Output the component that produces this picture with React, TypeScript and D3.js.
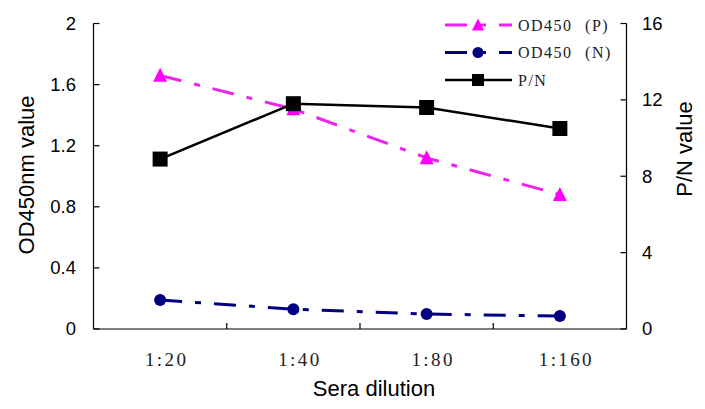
import React, { useEffect, useRef } from 'react';
import * as d3 from 'd3';

// data
const dilutions = ['1:20', '1:40', '1:80', '1:160'];
const odP = [1.66, 1.44, 1.12, 0.88];
const odN = [0.19, 0.13, 0.098, 0.085];
const pnRatio = [8.9, 11.8, 11.6, 10.5];
const leftTicks = [0, 0.4, 0.8, 1.2, 1.6, 2];
const rightTicks = [0, 4, 8, 12, 16];

const SANS = 'Arial, "Liberation Sans", sans-serif';
const SERIF = '"Liberation Serif", "Times New Roman", serif';

const App = () => {
  const ref = useRef<SVGSVGElement>(null);

  useEffect(() => {
    const width = 705;
    const height = 409;
    const left = 93.5;
    const right = 626.5;
    const top = 23.5;
    const bottom = 329;

    const svg = d3.select(ref.current);
    svg.selectAll('*').remove();
    svg.attr('width', width).attr('height', height);

    svg.append('rect').attr('width', width).attr('height', height).attr('fill', 'white');

    const x = d3.scaleBand().domain(dilutions).range([left, right]);
    const yL = d3.scaleLinear().domain([0, 2]).range([bottom, top]);
    const yR = d3.scaleLinear().domain([0, 16]).range([bottom, top]);
    const cx = (d: string) => (x(d) as number) + x.bandwidth() / 2;

    // axes
    const axisG = svg.append('g').attr('stroke', 'black').attr('stroke-width', 1.2);
    axisG.append('line').attr('x1', left).attr('x2', left).attr('y1', top).attr('y2', bottom);
    axisG.append('line').attr('x1', right).attr('x2', right).attr('y1', top).attr('y2', bottom);
    axisG.append('line').attr('x1', left).attr('x2', right).attr('y1', bottom).attr('y2', bottom);

    // ticks point inward
    leftTicks.forEach((t) => {
      axisG.append('line').attr('x1', left).attr('x2', left + 6).attr('y1', yL(t)).attr('y2', yL(t));
    });
    rightTicks.forEach((t) => {
      axisG.append('line').attr('x1', right - 6).attr('x2', right).attr('y1', yR(t)).attr('y2', yR(t));
    });
    // x ticks at category boundaries
    dilutions.slice(1).forEach((d) => {
      const xb = x(d) as number;
      axisG.append('line').attr('x1', xb).attr('x2', xb).attr('y1', bottom - 6).attr('y2', bottom);
    });

    // tick labels
    svg.selectAll('.lt')
      .data(leftTicks)
      .enter()
      .append('text')
      .attr('x', 76)
      .attr('y', (d) => yL(d))
      .attr('dy', '0.35em')
      .attr('text-anchor', 'end')
      .attr('font-family', SANS)
      .attr('font-size', 18.5)
      .text((d) => String(d));

    svg.selectAll('.rt')
      .data(rightTicks)
      .enter()
      .append('text')
      .attr('x', 642)
      .attr('y', (d) => yR(d))
      .attr('dy', '0.35em')
      .attr('text-anchor', 'start')
      .attr('font-family', SANS)
      .attr('font-size', 18.5)
      .text((d) => String(d));

    svg.selectAll('.xt')
      .data(dilutions)
      .enter()
      .append('text')
      .attr('x', (d) => cx(d) + 6.5)
      .attr('y', 366)
      .attr('text-anchor', 'middle')
      .attr('font-family', SERIF)
      .attr('font-size', 19)
      .attr('letter-spacing', 2.4)
      .attr('fill', '#222')
      .text((d) => d);

    // axis titles
    svg.append('text')
      .attr('transform', 'translate(34,175) rotate(-90)')
      .attr('text-anchor', 'middle')
      .attr('font-family', SANS)
      .attr('font-size', 22)
      .text('OD450nm value');

    svg.append('text')
      .attr('transform', 'translate(692,149) rotate(-90)')
      .attr('text-anchor', 'middle')
      .attr('font-family', SANS)
      .attr('font-size', 22)
      .text('P/N value');

    svg.append('text')
      .attr('x', 374)
      .attr('y', 396)
      .attr('text-anchor', 'middle')
      .attr('font-family', SANS)
      .attr('font-size', 22)
      .text('Sera dilution');

    const dash = '22,13,6,13';
    const triangle = (s: number) => `M0,${-s * 0.55}L${s / 2},${s * 0.45}L${-s / 2},${s * 0.45}Z`;

    // OD450 (P)
    const lineOD = d3.line<number>().x((_, i) => cx(dilutions[i])).y((d) => yL(d));
    svg.append('path')
      .attr('d', lineOD(odP))
      .attr('fill', 'none')
      .attr('stroke', '#EE22EE')
      .attr('stroke-width', 3)
      .attr('stroke-dasharray', dash);
    svg.selectAll('.mp')
      .data(odP)
      .enter()
      .append('path')
      .attr('transform', (d, i) => `translate(${cx(dilutions[i])},${yL(d)})`)
      .attr('d', triangle(14))
      .attr('fill', '#FF00FF');

    // OD450 (N)
    svg.append('path')
      .attr('d', lineOD(odN))
      .attr('fill', 'none')
      .attr('stroke', '#000080')
      .attr('stroke-width', 3)
      .attr('stroke-dasharray', dash);
    svg.selectAll('.mn')
      .data(odN)
      .enter()
      .append('circle')
      .attr('cx', (d, i) => cx(dilutions[i]))
      .attr('cy', (d) => yL(d))
      .attr('r', 6)
      .attr('fill', '#000080');

    // P/N
    const linePN = d3.line<number>().x((_, i) => cx(dilutions[i])).y((d) => yR(d));
    svg.append('path')
      .attr('d', linePN(pnRatio))
      .attr('fill', 'none')
      .attr('stroke', 'black')
      .attr('stroke-width', 2.5);
    svg.selectAll('.mpn')
      .data(pnRatio)
      .enter()
      .append('rect')
      .attr('x', (d, i) => cx(dilutions[i]) - 7.5)
      .attr('y', (d) => yR(d) - 7.5)
      .attr('width', 15)
      .attr('height', 15)
      .attr('fill', 'black');

    // legend
    const legend = [
      { name: 'OD450 (P)', color: '#EE22EE', mark: '#FF00FF', kind: 'tri', dashed: true },
      { name: 'OD450 (N)', color: '#000080', mark: '#000080', kind: 'circ', dashed: true },
      { name: 'P/N', color: 'black', mark: 'black', kind: 'sq', dashed: false },
    ];
    const lg = svg.append('g');
    legend.forEach((l, i) => {
      const ly = 25 + i * 27.5;
      lg.append('line')
        .attr('x1', 445)
        .attr('x2', 512)
        .attr('y1', ly)
        .attr('y2', ly)
        .attr('stroke', l.color)
        .attr('stroke-width', l.dashed ? 3 : 2.5)
        .attr('stroke-dasharray', l.dashed ? dash : null);
      if (l.kind === 'tri') {
        lg.append('path').attr('transform', `translate(478,${ly})`).attr('d', triangle(12)).attr('fill', l.mark);
      } else if (l.kind === 'circ') {
        lg.append('circle').attr('cx', 478).attr('cy', ly).attr('r', 5.5).attr('fill', l.mark);
      } else {
        lg.append('rect').attr('x', 472).attr('y', ly - 6).attr('width', 12).attr('height', 12).attr('fill', l.mark);
      }
      lg.append('text')
        .attr('x', 518)
        .attr('y', ly + 5.5)
        .attr('font-family', SERIF)
        .attr('font-size', 16)
        .attr('letter-spacing', 1.5)
        .attr('word-spacing', 7)
        .attr('fill', '#222')
        .text(l.name);
    });
  }, []);

  return (
    <div style={{ position: 'absolute', left: 0, top: 0 }}>
      <svg ref={ref} style={{ display: 'block' }}></svg>
    </div>
  );
};

export default App;
